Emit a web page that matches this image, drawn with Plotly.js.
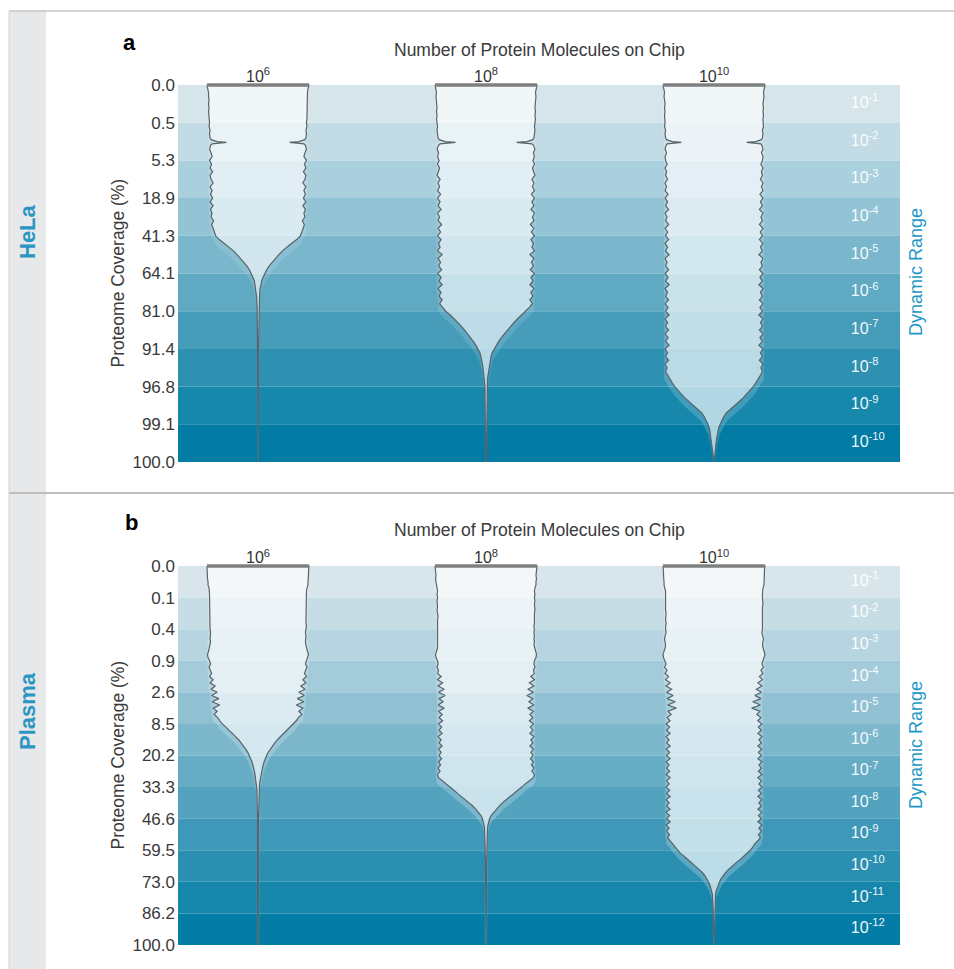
<!DOCTYPE html>
<html><head><meta charset="utf-8">
<script src="https://cdn.plot.ly/plotly-3.0.1.min.js"></script>
<style>html,body{margin:0;padding:0;background:#fff}#chart{width:954px;height:969px}</style>
</head><body><div id="chart"></div>
<script>
// ---------------- DATA ----------------
const chipLabels = ['10<sup>6</sup>', '10<sup>8</sup>', '10<sup>10</sup>'];
const chipPos = [1, 2, 3];

const helaCoverage = ['0.0','0.5','5.3','18.9','41.3','64.1','81.0','91.4','96.8','99.1','100.0'];
const plasmaCoverage = ['0.0','0.1','0.4','0.9','2.6','8.5','20.2','33.3','46.6','59.5','73.0','86.2','100.0'];

const helaRange = ['10<sup>-1</sup>','10<sup>-2</sup>','10<sup>-3</sup>','10<sup>-4</sup>','10<sup>-5</sup>',
                   '10<sup>-6</sup>','10<sup>-7</sup>','10<sup>-8</sup>','10<sup>-9</sup>','10<sup>-10</sup>'];
const plasmaRange = ['10<sup>-1</sup>','10<sup>-2</sup>','10<sup>-3</sup>','10<sup>-4</sup>','10<sup>-5</sup>',
                     '10<sup>-6</sup>','10<sup>-7</sup>','10<sup>-8</sup>','10<sup>-9</sup>','10<sup>-10</sup>',
                     '10<sup>-11</sup>','10<sup>-12</sup>'];

// half-width of each violin (% of full width), sampled every 0.1 band from the top;
// the X lists hold extra [band position, half-width] readings (spikes, tail ends)
const helaW6 = [
 100,98,97,97,96,97,96,97,96,96,
 95,96,94,95,94,80,93,95,92,90,
 95,91,94,89,94,92,88,94,90,93,
 89,94,88,93,90,92,87,91,88,86,
 83,76,66,56,48,41,34,28,22,17,
 13,10,7,6,4,3.5,3,2.5,2,2,
 1.5];
const helaX6 = [[1.45,92],[1.52,62],[1.56,90],[7,1],[10,0.6]];

const helaW8 = [
 100,98,97,98,97,97,96,97,96,97,
 96,95,96,95,94,80,93,96,93,95,
 92,95,91,94,96,90,94,91,95,89,
 95,90,94,88,95,91,94,87,94,89,
 95,88,93,90,95,86,94,89,93,87,
 95,88,92,86,94,88,92,86,91,85,
 79,70,62,55,48,42,36,30,25,20,
 16,12,10,8,7,6,5,4,3,3,
 2,2,2];
const helaX8 = [[1.45,92],[1.52,60],[1.56,90],[9,1.5],[9.3,1],[10,0.6]];

const helaW10 = [
 100,98,97,98,97,96,97,96,97,96,
 96,97,95,96,95,82,94,96,93,96,
 95,92,96,93,95,91,96,93,96,90,
 96,91,95,89,96,92,95,89,96,91,
 95,89,96,91,95,88,96,92,95,89,
 96,90,95,88,96,91,95,89,96,90,
 95,88,96,91,95,89,96,90,95,88,
 96,91,95,89,96,92,95,91,87,82,
 77,71,64,57,49,41,33,24,19,15,
 12,9,8,6,5,4,3,2,1.5,1,
 0.3];
const helaX10 = [[1.45,93],[1.52,64],[1.56,92]];

const plasmaW6 = [
 100,100,99,99,99,98,98,96,95,95,
 95,95,94,95,95,94,95,94,94,95,
 94,93,94,94,93,94,95,97,99,98,
 95,93,96,94,91,95,88,94,84,92,
 80,91,77,90,75,88,80,86,79,75,
 70,63,56,50,44,38,33,28,24,20,
 17,14,12,10,8,7,6,5,4,3,
 3,2,2];
const plasmaX6 = [[8,1],[12,0.6]];

const plasmaW8 = [
 100,99,99,98,99,98,98,96,95,96,
 95,96,95,95,96,95,94,95,95,94,
 95,94,95,94,95,94,95,97,99,98,
 95,94,96,93,95,88,95,85,94,82,
 93,80,92,84,94,82,93,86,92,85,
 93,87,92,86,94,88,92,86,93,88,
 92,87,93,89,94,90,95,93,85,77,
 70,63,56,48,40,32,26,20,15,10,
 7,5,4,3,3,2,2,2];
const plasmaX8 = [[9.5,1],[12,0.6]];

const plasmaW10 = [
 100,99,99,99,98,98,98,96,95,95,
 95,95,96,95,95,94,95,95,94,95,
 95,94,95,97,96,95,96,98,100,99,
 96,94,97,92,96,89,95,86,94,83,
 93,80,92,76,91,74,90,84,92,86,
 94,87,93,86,94,88,93,86,94,87,
 93,86,94,88,93,87,94,86,93,88,
 94,87,93,86,94,88,93,86,94,87,
 93,86,94,88,93,87,91,86,80,76,
 71,66,58,51,43,35,29,23,18,14,
 11,8,6,4,3,3,2,2,2,1.5];
const plasmaX10 = [[11.5,1],[12,0.6]];

// ---------------- STYLE ----------------
const helaBands = ['#d6e5ea','#c2dbe4','#abd0dd','#93c4d5','#7ab6cc','#60a9c3','#479cba','#2e91b2','#1787ac','#027ca4'];
const plasmaBands = ['#d8e5ea','#c7dde5','#b7d5e0','#a4cbda','#90c1d3','#7cb7cc','#67acc5','#53a2be','#3f98b7','#2b8fb1','#1786ab','#037da5'];

const FW = 954, FH = 969;
const pxX = v => v / FW;
const pxY = v => 1 - v / FH;
const UNIT = 228;              // px between violin centres
const HALF = 51 / UNIT;        // max half width in x units
const xRange = [1 - 80 / UNIT, 1 + (900 - 258) / UNIT];
const xDom = [pxX(178), pxX(900)];
const FONT = 'Liberation Sans, Arial, Helvetica, sans-serif';

function yDom(topPx, botPx, n, pad) {
  const u = (botPx - topPx) / n;
  return [pxY(botPx), pxY(topPx - pad * u)];
}
const padA = 0.07, padB = 0.08;
const yDomA = yDom(85, 462, helaBands.length, padA);
const yDomB = yDom(566, 945, plasmaBands.length, padB);

function profile(w, extra) {
  const pts = w.map((v, i) => [Math.round(i * 10) / 100, v]);
  return pts.concat(extra).sort((a, b) => a[0] - b[0]);
}
function outline(pts, c) {
  const xs = [], ys = [];
  pts.forEach(p => { xs.push(c - p[1] / 100 * HALF); ys.push(p[0]); });
  for (let i = pts.length - 1; i >= 0; i--) { xs.push(c + pts[i][1] / 100 * HALF); ys.push(pts[i][0]); }
  xs.push(xs[0]); ys.push(ys[0]);
  return {xs, ys};
}
// soft glow: local outer envelope of the outline
function glow(pts) {
  return pts.map((p, i) => {
    let m = p[1];
    for (let k = Math.max(0, i - 2); k <= Math.min(pts.length - 1, i + 2); k++) m = Math.max(m, pts[k][1]);
    return [p[0], Math.min(100, m + Math.min(2.5, m * 0.15))];
  });
}
function violin(w, extra, c, xa, ya, glowAlpha) {
  const pts = profile(w, extra);
  const g = outline(glow(pts), c);
  const o = outline(pts, c);
  return [
    {type: 'scatter', mode: 'lines', x: g.xs, y: g.ys, xaxis: xa, yaxis: ya,
     fill: 'toself', fillcolor: 'rgba(255,255,255,' + glowAlpha + ')', line: {width: 0},
     hoverinfo: 'skip', showlegend: false},
    {type: 'scatter', mode: 'lines', x: o.xs, y: o.ys, xaxis: xa, yaxis: ya,
     fill: 'toself', fillcolor: 'rgba(255,255,255,0.6)',
     line: {color: '#58636a', width: 1.2}, hoverinfo: 'skip', showlegend: false}
  ];
}
function topBar(c, xa, ya) {
  return {type: 'scatter', mode: 'lines', x: [c - HALF, c + HALF], y: [0, 0], xaxis: xa, yaxis: ya,
    line: {color: '#7f7f7f', width: 3.5}, hoverinfo: 'skip', showlegend: false};
}
function rangeText(labels, xa, ya) {
  return {type: 'scatter', mode: 'text', x: labels.map(() => 3.6), y: labels.map((_, i) => i + 0.5),
    text: labels, textposition: 'middle right', xaxis: xa, yaxis: ya, cliponaxis: false,
    textfont: {family: FONT, size: 16, color: 'rgba(255,255,255,0.95)'}, hoverinfo: 'skip', showlegend: false};
}

const traces = [].concat(
  violin(helaW6, helaX6, chipPos[0], 'x', 'y', 0.12),
  violin(helaW8, helaX8, chipPos[1], 'x', 'y', 0.12),
  violin(helaW10, helaX10, chipPos[2], 'x', 'y', 0.18),
  [topBar(chipPos[0], 'x', 'y'), topBar(chipPos[1], 'x', 'y'), topBar(chipPos[2], 'x', 'y'),
   rangeText(helaRange, 'x', 'y')],
  violin(plasmaW6, plasmaX6, chipPos[0], 'x2', 'y2', 0.22),
  violin(plasmaW8, plasmaX8, chipPos[1], 'x2', 'y2', 0.22),
  violin(plasmaW10, plasmaX10, chipPos[2], 'x2', 'y2', 0.22),
  [topBar(chipPos[0], 'x2', 'y2'), topBar(chipPos[1], 'x2', 'y2'), topBar(chipPos[2], 'x2', 'y2'),
   rangeText(plasmaRange, 'x2', 'y2')]
);

const shapes = [];
// left grey strip and borders
shapes.push({type: 'rect', xref: 'paper', yref: 'paper', x0: pxX(9), x1: pxX(46), y0: 0, y1: pxY(11),
  fillcolor: '#e7e8e9', line: {width: 0}, layer: 'below'});
shapes.push({type: 'line', xref: 'paper', yref: 'paper', x0: pxX(9), x1: 1, y0: pxY(11), y1: pxY(11),
  line: {color: '#c6c6c6', width: 1.5}});
shapes.push({type: 'line', xref: 'paper', yref: 'paper', x0: pxX(9), x1: 1, y0: pxY(493), y1: pxY(493),
  line: {color: '#bdbdbd', width: 2}});
shapes.push({type: 'line', xref: 'paper', yref: 'paper', x0: pxX(9), x1: pxX(9), y0: 0, y1: pxY(11),
  line: {color: '#d2d2d2', width: 1}});
helaBands.forEach((c, i) => shapes.push({type: 'rect', xref: 'x domain', yref: 'y', x0: 0, x1: 1, y0: i, y1: i + 1,
  fillcolor: c, line: {width: 0}, layer: 'below'}));
plasmaBands.forEach((c, i) => shapes.push({type: 'rect', xref: 'x2 domain', yref: 'y2', x0: 0, x1: 1, y0: i, y1: i + 1,
  fillcolor: c, line: {width: 0}, layer: 'below'}));

function ann(text, x, y, opts) {
  return Object.assign({text: text, xref: 'paper', yref: 'paper', x: pxX(x), y: pxY(y),
    xanchor: 'center', yanchor: 'middle', showarrow: false,
    font: {family: FONT, size: 17.5, color: '#3a3a3a'}}, opts || {});
}
const annotations = [
  ann('Number of Protein Molecules on Chip', 539, 49.5),
  ann('Number of Protein Molecules on Chip', 539, 530),
  ann('Proteome Coverage (%)', 117, 273.5, {textangle: -90}),
  ann('Proteome Coverage (%)', 117, 755.5, {textangle: -90}),
  ann('Dynamic Range', 916, 272, {textangle: -90, font: {family: FONT, size: 18, color: '#1c98c6'}}),
  ann('Dynamic Range', 916, 745, {textangle: -90, font: {family: FONT, size: 18, color: '#1c98c6'}}),
  ann('<b>a</b>', 129, 42, {font: {family: FONT, size: 22, color: '#000'}}),
  ann('<b>b</b>', 131, 522, {font: {family: FONT, size: 22, color: '#000'}}),
  ann('<b>HeLa</b>', 27, 232, {textangle: -90, font: {family: FONT, size: 22, color: '#2b95c3'}}),
  ann('<b>Plasma</b>', 27, 711, {textangle: -90, font: {family: FONT, size: 22, color: '#2b95c3'}})
];

function xAxis(anchor) {
  return {domain: xDom, range: xRange, anchor: anchor, side: 'top', tickvals: chipPos, ticktext: chipLabels,
    ticks: '', showgrid: false, zeroline: false, showline: false, fixedrange: true, ticklabelstandoff: -4,
    tickfont: {family: FONT, size: 16, color: '#333'}};
}
function yAxis(anchor, dom, n, pad, labels) {
  return {domain: dom, range: [n, -pad], anchor: anchor, tickvals: labels.map((_, i) => i), ticktext: labels,
    ticks: '', showgrid: false, zeroline: false, showline: false, fixedrange: true, ticklabelstandoff: 2,
    tickfont: {family: FONT, size: 17, color: '#3a3a3a'}};
}

const layout = {
  width: FW, height: FH, margin: {l: 0, r: 0, t: 0, b: 0},
  paper_bgcolor: '#ffffff', plot_bgcolor: 'rgba(0,0,0,0)', showlegend: false,
  font: {family: FONT, size: 16, color: '#3a3a3a'},
  xaxis: xAxis('y'),
  yaxis: yAxis('x', yDomA, helaBands.length, padA, helaCoverage),
  xaxis2: xAxis('y2'),
  yaxis2: yAxis('x2', yDomB, plasmaBands.length, padB, plasmaCoverage),
  shapes: shapes, annotations: annotations
};

Plotly.newPlot('chart', traces, layout, {displayModeBar: false, staticPlot: true});
</script></body></html>
